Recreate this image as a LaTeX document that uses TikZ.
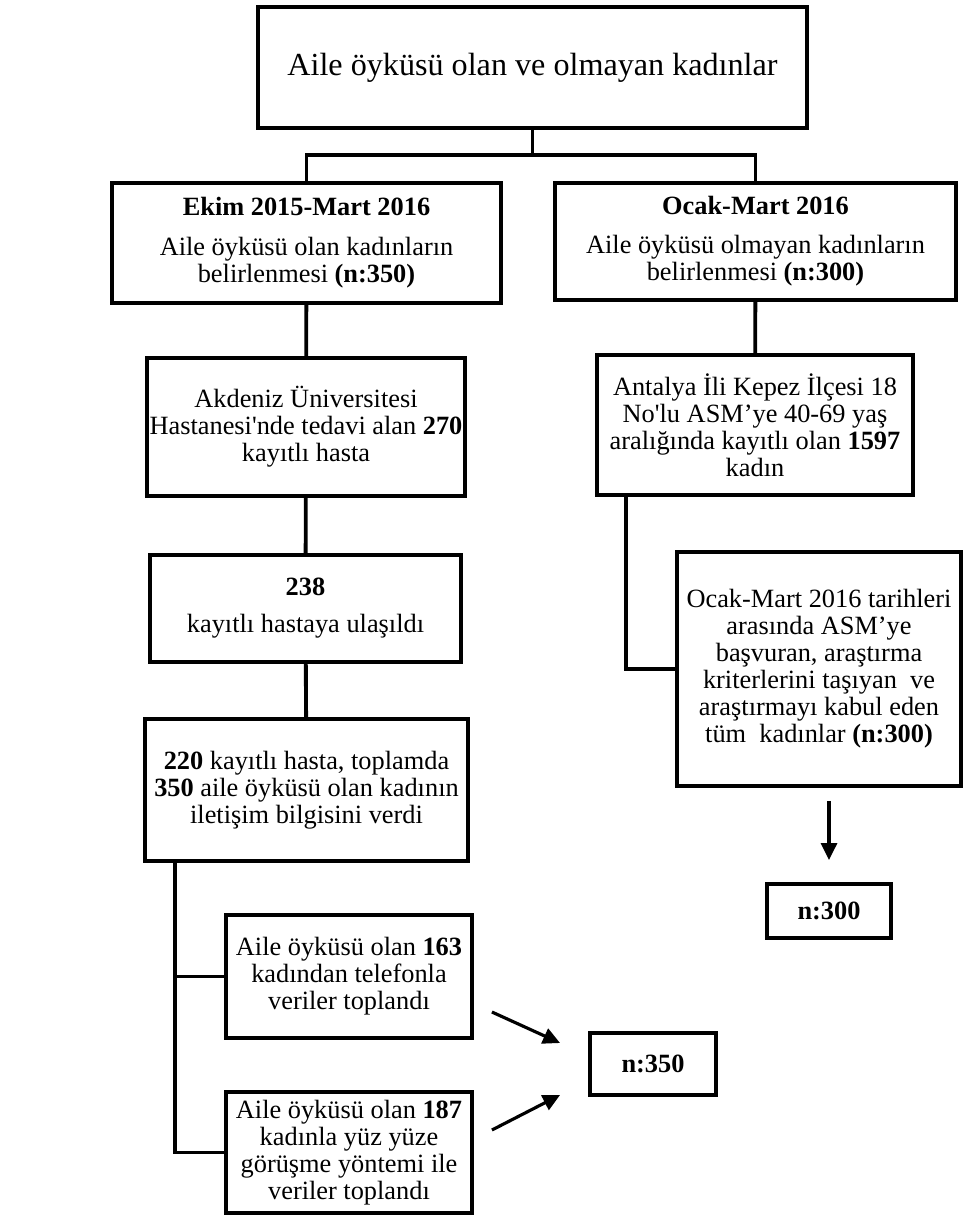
\documentclass[tikz,border=0pt]{standalone}
\usepackage{fontspec}
\setmainfont{Liberation Serif}
\usetikzlibrary{arrows.meta, calc, positioning}

\newcommand{\normsz}{\fontsize{15}{15.4}\selectfont}
\newcommand{\bigsz}{\fontsize{18.3}{22}\selectfont}

\begin{document}
\begin{tikzpicture}
  [
    x=0.02cm, y=-0.02cm,
    >={Triangle[length=0.34cm, width=0.32cm]},
    box/.style = {draw, line width=2.2pt, fill=white, align=center, inner sep=0pt, font=\normsz},
    bsize/.style 2 args = {minimum width=#1*0.02cm, minimum height=#2*0.02cm},
    link/.style = {line width=2.2pt},
    arr/.style = {->, line width=1.8pt},
  ]

  \useasboundingbox (0,0) rectangle (979,1217);

  % top of the tree
  \node (all) at (532.5,67.5) [box, bsize={549}{121}, font=\bigsz] {\raisebox{-0.08cm}{Aile öyküsü olan ve olmayan kadınlar}};

  \node (ekim) at (306.5,243) [box, bsize={389}{120}]
    {{\bfseries Ekim 2015-Mart 2016}\\[0.26cm] Aile öyküsü olan kadınların\\ belirlenmesi \textbf{(n:350)}};
  \node (ocak) at (755.5,241.5) [box, bsize={401}{117}]
    {{\bfseries Ocak-Mart 2016}\\[0.24cm] Aile öyküsü olmayan kadınların\\ belirlenmesi \textbf{(n:300)}};

  \coordinate (bus) at ($(all.south)+(0,25)$);
  \draw[link] (all.south) -- (bus);
  \draw[link] (ekim.north) |- (bus) -| (ocak.north);

  % left branch
  \node (akd) at (306,427) [box, bsize={318}{138}]
    {Akdeniz Üniversitesi\\ Hastanesi\textquotesingle nde tedavi alan \textbf{270}\\ kayıtlı hasta};
  \node (ulas) at (305.5,608.5) [box, bsize={311}{107}]
    {\textbf{238}\\[0.2cm] kayıtlı hastaya ulaşıldı};
  \node (ilet) at (306.5,790) [box, bsize={323}{142}]
    {\textbf{220} kayıtlı hasta, toplamda\\ \textbf{350} aile öyküsü olan kadının\\ iletişim bilgisini verdi};
  \node (tel) at (349,976.5) [box, bsize={246}{123}]
    {Aile öyküsü olan \textbf{163}\\ kadından telefonla\\ veriler toplandı};
  \node (yuz) at (349,1152.5) [box, bsize={246}{121}]
    {Aile öyküsü olan \textbf{187}\\ kadınla yüz yüze\\ görüşme yöntemi ile\\ veriler toplandı};
  \node (nA) at (653,1064) [box, bsize={126}{62}] {\textbf{n:350}};

  \draw[link] (ekim) -- (akd);
  \draw[link] (akd) -- (ulas);
  \draw[link] (ulas) -- (ilet);

  \coordinate (iletfoot) at ($(ilet.south west)+(32,0)$);
  \draw[link] (iletfoot) |- (tel.west);
  \draw[link] (iletfoot) |- (yuz.west);

  \coordinate (telout) at ($(tel.east)+(18,35.5)$);
  \coordinate (yuzout) at ($(yuz.east)+(18,-22.5)$);
  \coordinate (nAin1) at ($(nA.west)+(-28,-21)$);
  \coordinate (nAin2) at ($(nA.west)+(-28,31)$);
  \draw[arr] (telout) -- (nAin1);
  \draw[arr] (yuzout) -- (nAin2);

  % right branch
  \node (antalya) at (755,425) [box, bsize={316}{140}]
    {Antalya İli Kepez İlçesi 18\\ No\textquotesingle lu ASM’ye 40-69 yaş\\ aralığında kayıtlı olan \textbf{1597}\\ kadın};
  \node (basv) at (819,669) [box, bsize={284}{234}]
    {Ocak-Mart 2016 tarihleri\\ arasında ASM’ye\\ başvuran, araştırma\\ kriterlerini taşıyan\ \ ve\\ araştırmayı kabul eden\\ tüm\ \ kadınlar \textbf{(n:300)}};
  \node (nB) at (829,911) [box, bsize={124}{54}] {\textbf{n:300}};

  \draw[link] (ocak) -- (antalya);
  \coordinate (antfoot) at ($(antalya.south west)+(31,0)$);
  \draw[link] (antfoot) |- (basv.west);

  \draw[arr, shorten <=0.26cm, shorten >=0.44cm] (basv.south -| nB.north) -- (nB.north);

\end{tikzpicture}
\end{document}
